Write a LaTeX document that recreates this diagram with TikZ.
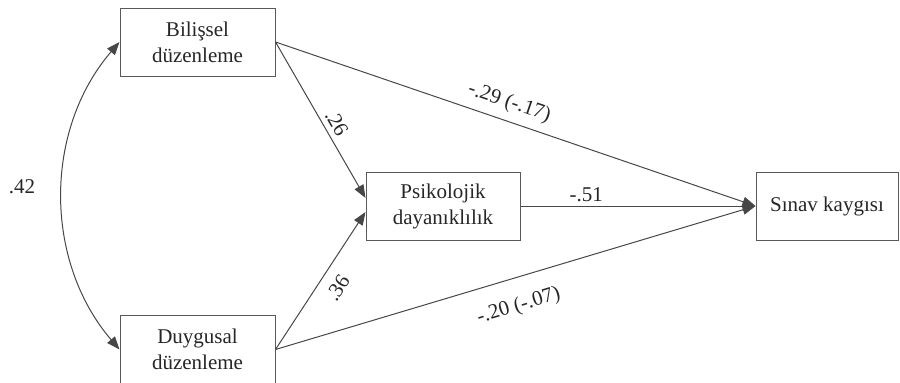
\documentclass[tikz,border=0pt]{standalone}
\usepackage{fontspec}
\setmainfont{Liberation Serif}
\usetikzlibrary{arrows.meta}
\begin{document}
\begin{tikzpicture}[x=1pt,y=-1pt,
  box/.style={draw=black!65,line width=1pt,minimum width=155pt,minimum height=68pt,inner sep=0pt,align=center,font=\fontsize{21}{26}\selectfont,text=black!85},
  path/.style={draw=black!72,line width=1pt,-{Triangle[length=13pt,width=10pt]}},
  lab/.style={font=\fontsize{21}{24}\selectfont,text=black!85,inner sep=2pt}]
\useasboundingbox (0,0) rectangle (900,383);
\node[box] (bil) at (197.5,42) {Bilişsel\\düzenleme};
\node[box,minimum height=69pt] (duy) at (197.5,349.5) {Duygusal\\düzenleme};
\node[box,minimum width=154pt] (psy) at (443,206) {Psikolojik\\dayanıklılık};
\node[box,minimum width=142pt] (sin) at (827,206) {Sınav kaygısı};
\coordinate (psyA) at ([yshift=8pt]psy.west);
\coordinate (psyB) at ([yshift=-6pt]psy.west);
\draw[path] (bil.east) -- node[lab,sloped,above=3pt,pos=0.56] {.26} (psyA);
\draw[path] (duy.east) -- node[lab,sloped,below=9pt,pos=0.52] {.36} (psyB);
\draw[path] (bil.east) -- node[lab,sloped,above=6pt,pos=0.475] {-.29 (-.17)} (sin.west);
\draw[path] (duy.east) -- node[lab,sloped,below=16pt,pos=0.49] {-.20 (-.07)} (sin.west);
\draw[path] (psy.east) -- node[lab,above=2pt,pos=0.28] {-.51} (sin.west);
\draw[draw=black!72,line width=1pt,{Triangle[length=13pt,width=10pt]}-{Triangle[length=13pt,width=10pt]}]
  (bil.west) .. controls (43.7,130) and (43.7,261) .. (duy.west);
\node[lab] (r42) at (22,187) {.42};
\end{tikzpicture}
\end{document}
